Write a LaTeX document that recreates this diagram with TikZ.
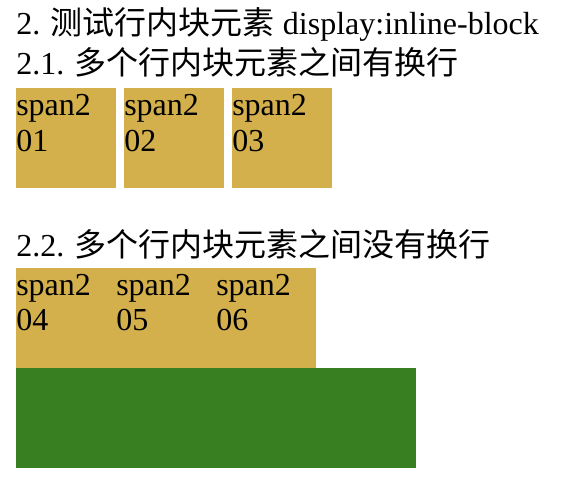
\documentclass[tikz,border=0pt]{standalone}
\usepackage{fontspec}
\setmainfont{Liberation Serif}
\newfontfamily\cjk{Noto Sans CJK SC}
\definecolor{gold}{RGB}{211,176,76}
\definecolor{leaf}{RGB}{56,127,34}
\begin{document}
\begin{tikzpicture}[x=0.75pt,y=-0.75pt,
  txt/.style={anchor=base west,inner sep=0pt,font=\fontsize{24pt}{27pt}\selectfont},
  ybox/.style={anchor=north west,inner sep=0pt,fill=gold,minimum width=75pt,minimum height=75pt},
  ]
\useasboundingbox (0,0) rectangle (566,494);
\node[txt] (t1) at (16,34) {2. {\cjk 测试行内块元素} display:inline-block};
\node[txt] (t2) at (16,74) {2.1. {\cjk 多个行内块元素之间有换行}};
\node[ybox] (b1) at (16,88) {};
\node[ybox] (b2) at (124,88) {};
\node[ybox] (b3) at (232,88) {};
\foreach \x/\n in {16/01,124/02,232/03}{
  \node[txt] (s\n) at (\x,115.5) {span2};
  \node[txt] (n\n) at (\x,151) {\n};
}
\node[txt] (t3) at (16,256.5) {2.2. {\cjk 多个行内块元素之间没有换行}};
\node[anchor=north west,inner sep=0pt,fill=gold,minimum width=225pt,minimum height=75pt] (row) at (16,268) {};
\node[anchor=north west,inner sep=0pt,fill=leaf,minimum width=300pt,minimum height=75pt] (green) at (16,368) {};
\foreach \x/\n in {16/04,116/05,216/06}{
  \node[txt] (s\n) at (\x,295) {span2};
  \node[txt] (n\n) at (\x,330.5) {\n};
}
\end{tikzpicture}
\end{document}
